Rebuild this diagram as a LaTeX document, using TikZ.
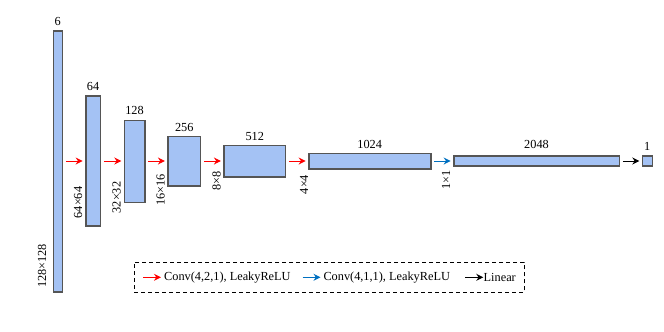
\documentclass[tikz,border=0pt]{standalone}
\usepackage{fontspec}
\setmainfont{Liberation Serif}
\usetikzlibrary{arrows.meta}
\definecolor{boxfill}{RGB}{164,194,244}
\definecolor{boxdraw}{RGB}{85,85,85}
\definecolor{convblue}{RGB}{0,112,192}
\begin{document}
\begin{tikzpicture}[x=1pt,y=-1pt,
  font=\fontsize{12.3}{14}\selectfont,
  blk/.style={draw=boxdraw,fill=boxfill,line width=1.6pt,inner sep=0pt,outer sep=0pt,rectangle},
  toplab/.style={label={[inner sep=0pt,label distance=5pt]above:#1}},
  dimlab/.style={rotate=90,inner sep=0pt},
  arr/.style={-{Stealth[length=7pt,width=7pt]},line width=1pt,shorten <=3.5pt,shorten >=3pt},
  legarr/.style={-{Stealth[length=7pt,width=7pt]},line width=1pt},
  legbox/.style={draw=black,line width=1.1pt,dash pattern=on 4pt off 3pt,inner sep=0pt}
]
\useasboundingbox (0,0) rectangle (664,332);
% boxes
\node[blk,minimum width=9pt,minimum height=261pt,toplab=6] (b6) at (57.8,161.5) {};
\node[blk,minimum width=14.6pt,minimum height=130pt,toplab=64] (b64) at (93,161) {};
\node[blk,minimum width=20.4pt,minimum height=82pt,toplab=128] (b128) at (134.5,161.3) {};
\node[blk,minimum width=32.7pt,minimum height=49.7pt,toplab=256] (b256) at (184.3,161.2) {};
\node[blk,minimum width=61.7pt,minimum height=31.7pt,toplab=512] (b512) at (254.8,161.2) {};
\node[blk,minimum width=122pt,minimum height=15.7pt,toplab=1024] (b1024) at (369.7,161.2) {};
\node[blk,minimum width=165.6pt,minimum height=10pt,label={[inner sep=0pt,label distance=7pt]above:2048}] (b2048) at (536.5,161) {};
\node[blk,minimum width=10pt,minimum height=10pt,toplab=1] (b1) at (647.3,161) {};
% arrows
\draw[arr,red] (b6.east |- b1.center) -- (b64.west |- b1.center);
\draw[arr,red] (b64.east |- b1.center) -- (b128.west |- b1.center);
\draw[arr,red] (b128.east |- b1.center) -- (b256.west |- b1.center);
\draw[arr,red] (b256.east |- b1.center) -- (b512.west |- b1.center);
\draw[arr,red] (b512.east |- b1.center) -- (b1024.west |- b1.center);
\draw[arr,convblue] (b1024.east |- b1.center) -- (b2048.west |- b1.center);
\draw[arr,black] (b2048.east) -- (b1.west);
% dimension labels
\node[dimlab] (d128) at (42,266) {128×128};
\node[dimlab] (d64) at (78,202.5) {64×64};
\node[dimlab] (d32) at (116.7,197.5) {32×32};
\node[dimlab] (d16) at (160.7,190) {16×16};
\node[dimlab] (d8) at (216.5,181) {8×8};
\node[dimlab] (d4) at (304,184.5) {4×4};
\node[dimlab] (d1) at (446,180) {1×1};
% legend
\node[legbox,minimum width=390pt,minimum height=30pt] (leg) at (329.2,277.3) {};
\coordinate (r1) at (143.3,277.3);
\coordinate (r2) at (161,277.3);
\node[anchor=west,inner sep=0pt] (t1) at (164,277.3) {Conv(4,2,1), LeakyReLU};
\coordinate (u1) at (302.7,277.3);
\coordinate (u2) at (320.5,277.3);
\node[anchor=west,inner sep=0pt] (t2) at (323.3,277.3) {Conv(4,1,1), LeakyReLU};
\coordinate (k1) at (465,277.3);
\coordinate (k2) at (483.3,277.3);
\node[anchor=west,inner sep=0pt] (t3) at (483.5,277.3) {Linear};
\draw[legarr,red] (r1) -- (r2);
\draw[legarr,convblue] (u1) -- (u2);
\draw[legarr,black] (k1) -- (k2);
\end{tikzpicture}
\end{document}
